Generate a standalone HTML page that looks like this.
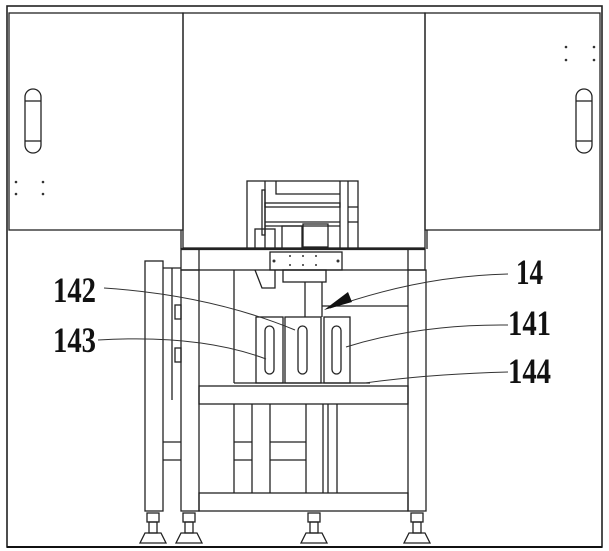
<!DOCTYPE html>
<html><head><meta charset="utf-8"><style>
html,body{margin:0;padding:0;background:#fff}
svg{display:block}
text{font-family:"Liberation Serif",serif;font-size:36px;fill:#111;font-weight:bold}
</style></head><body>
<svg width="609" height="551" viewBox="0 0 609 551" xmlns="http://www.w3.org/2000/svg">
<defs>
<g id="f"><rect x="-6" y="513" width="12" height="9"/><rect x="-4" y="522" width="8" height="11"/><polygon points="-8,533 8,533 13,543 -13,543"/></g>
</defs>
<g fill="none" stroke="#222" stroke-width="1.3">
<rect x="7" y="6" width="595" height="541" stroke-width="1.6"/>
<rect x="9" y="13" width="174" height="217"/>
<rect x="425" y="13" width="175" height="217"/>
<rect x="183" y="13" width="242" height="235"/>
<line x1="181" y1="230" x2="181" y2="249"/>
<line x1="427" y1="230" x2="427" y2="249"/>
<rect x="25" y="89" width="16" height="64" rx="8"/>
<line x1="25" y1="101" x2="41" y2="101"/><line x1="25" y1="141" x2="41" y2="141"/>
<rect x="576" y="89" width="16" height="64" rx="8"/>
<line x1="576" y1="101" x2="592" y2="101"/><line x1="576" y1="141" x2="592" y2="141"/>
<rect x="247" y="181" width="111" height="68"/>
<line x1="265" y1="181" x2="265" y2="249"/>
<line x1="340" y1="181" x2="340" y2="249"/>
<line x1="348" y1="181" x2="348" y2="249"/>
<polyline points="276,181 276,194 340,194"/>
<rect x="265" y="203" width="75" height="4"/>
<line x1="348" y1="207" x2="358" y2="207"/>
<line x1="348" y1="222" x2="358" y2="222"/>
<line x1="265" y1="222" x2="340" y2="222"/>
<line x1="265" y1="226" x2="340" y2="226"/>
<rect x="255" y="229" width="20" height="20"/>
<rect x="282" y="226" width="20" height="23"/>
<rect x="303" y="224" width="25" height="23"/>
<rect x="262" y="190" width="3" height="45"/>
<rect x="181" y="249" width="244" height="21"/>
<line x1="181" y1="249" x2="425" y2="249" stroke-width="2.2"/>
<line x1="199" y1="249" x2="199" y2="270"/>
<line x1="408" y1="249" x2="408" y2="270"/>
<rect x="181" y="270" width="18" height="241"/>
<rect x="408" y="270" width="18" height="241"/>
<rect x="199" y="386" width="209" height="18"/>
<rect x="199" y="493" width="209" height="18"/>
<rect x="145" y="261" width="18" height="250"/>
<line x1="163" y1="268" x2="181" y2="268"/>
<line x1="172" y1="268" x2="172" y2="400"/>
<line x1="163" y1="442" x2="181" y2="442"/>
<line x1="163" y1="460" x2="181" y2="460"/>
<rect x="175" y="305" width="6" height="14"/>
<rect x="175" y="348" width="6" height="14"/>
<rect x="270" y="252" width="72" height="18"/>
<polyline points="255,270 262,288 275,288 275,270"/>
<rect x="283" y="270" width="43" height="12"/>
<line x1="305" y1="282" x2="305" y2="317"/>
<line x1="322" y1="282" x2="322" y2="317"/>
<line x1="234" y1="270" x2="234" y2="383"/>
<line x1="322" y1="306" x2="408" y2="306"/>
<line x1="234" y1="383" x2="370" y2="383"/>
<rect x="256" y="317" width="27" height="66"/>
<rect x="285" y="317" width="36" height="66"/>
<rect x="324" y="317" width="26" height="66"/>
<rect x="265" y="326" width="9" height="48" rx="4.5"/>
<rect x="298" y="326" width="9" height="48" rx="4.5"/>
<rect x="332" y="326" width="9" height="48" rx="4.5"/>
<line x1="234" y1="404" x2="234" y2="493"/>
<line x1="252" y1="404" x2="252" y2="493"/>
<line x1="270" y1="404" x2="270" y2="493"/>
<line x1="306" y1="404" x2="306" y2="493"/>
<line x1="323" y1="404" x2="323" y2="493"/>
<line x1="328" y1="404" x2="328" y2="493"/>
<line x1="337" y1="404" x2="337" y2="493"/>
<line x1="234" y1="442" x2="252" y2="442"/><line x1="234" y1="460" x2="252" y2="460"/>
<line x1="270" y1="442" x2="306" y2="442"/><line x1="270" y1="460" x2="306" y2="460"/>
<use href="#f" x="153"/><use href="#f" x="189"/><use href="#f" x="314"/><use href="#f" x="417"/>
</g>
<line x1="7" y1="547" x2="602" y2="547" stroke="#111" stroke-width="2"/>
<g fill="#333">
<circle cx="16" cy="182" r="1.3"/><circle cx="43" cy="182" r="1.3"/><circle cx="16" cy="194" r="1.3"/><circle cx="43" cy="194" r="1.3"/>
<circle cx="566" cy="47" r="1.3"/><circle cx="594" cy="47" r="1.3"/><circle cx="566" cy="60" r="1.3"/><circle cx="594" cy="60" r="1.3"/>
<circle cx="274" cy="261" r="1.5"/><circle cx="338" cy="261" r="1.5"/>
<circle cx="290" cy="256" r="1"/><circle cx="303" cy="256" r="1"/><circle cx="316" cy="256" r="1"/>
<circle cx="290" cy="265" r="1"/><circle cx="303" cy="265" r="1"/><circle cx="316" cy="265" r="1"/>
</g>
<g fill="none" stroke="#333" stroke-width="1">
<path d="M104,288 Q210,295 295,330"/>
<path d="M98,340 Q200,334 266,359"/>
<path d="M508,274 Q420,276 330,308"/>
<path d="M508,325 Q420,324 346,347"/>
<path d="M508,372 Q430,374 365,383"/>
</g>
<polygon points="324,310 348,292 352,302" fill="#111"/>
<text x="53" y="302" textLength="43" lengthAdjust="spacingAndGlyphs">142</text>
<text x="53" y="352" textLength="43" lengthAdjust="spacingAndGlyphs">143</text>
<text x="516" y="284" textLength="27" lengthAdjust="spacingAndGlyphs">14</text>
<text x="508" y="335" textLength="43" lengthAdjust="spacingAndGlyphs">141</text>
<text x="508" y="383" textLength="43" lengthAdjust="spacingAndGlyphs">144</text>
</svg>
</body></html>
